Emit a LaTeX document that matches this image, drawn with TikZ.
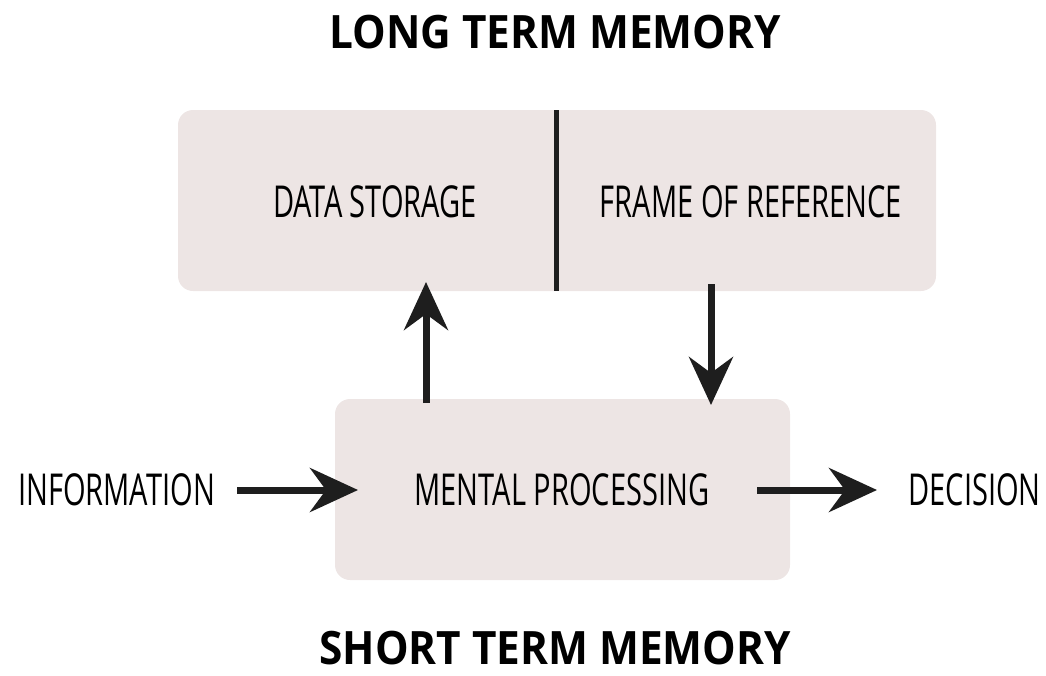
\documentclass[tikz,border=0pt]{standalone}
\usepackage{fontspec}
\setmainfont{Open Sans}
\newfontfamily\condfont[FakeStretch=0.66]{Open Sans}
\newfontfamily\headfont[FakeStretch=0.92]{Open Sans}
\usetikzlibrary{arrows.meta}
\definecolor{boxfill}{RGB}{237,229,228}
\definecolor{ink}{RGB}{30,30,30}
\tikzset{
  panel/.style={fill=boxfill, rounded corners=15pt, draw=none},
  lbl/.style={font=\condfont\fontsize{44}{50}\selectfont, text=black, inner sep=0pt, anchor=base},
  title/.style={font=\headfont\bfseries\fontsize{46}{52}\selectfont, text=black, inner sep=0pt,
    anchor=base},
  flow/.style={draw=ink, line width=7pt,
    -{Stealth[length=48pt, width=44pt, inset=16pt]}}
}
\begin{document}
\begin{tikzpicture}[x=1pt, y=-1pt]
  \useasboundingbox (0,0) rectangle (1046,675);
  % long term memory panel and its divider
  \path[panel] (178,110) rectangle (936,291);
  \coordinate (divtop) at (556,110);
  \coordinate (divbot) at (556,291);
  \draw[ink, line width=5pt] (divtop) -- (divbot);
  % short term memory panel
  \path[panel] (335,399) rectangle (790,580);

  \node[title] (ltm) at (555,48) {LONG TERM MEMORY};
  \node[title] (stm) at (555,664) {SHORT TERM MEMORY};

  \node[lbl] (data) at (375,217) {DATA STORAGE};
  \node[lbl] (frame) at (751,217) {FRAME OF REFERENCE};
  \node[lbl] (proc) at (562,505) {MENTAL PROCESSING};
  \node[lbl, anchor=base west] (info) at (18,505) {INFORMATION};
  \node[lbl, anchor=base east] (dec) at (1041,505) {DECISION};

  \coordinate (upfrom) at (426,403);
  \coordinate (upto) at (426,282);
  \coordinate (dnfrom) at (711,284);
  \coordinate (dnto) at (711,405);
  \coordinate (infrom) at (237,490);
  \coordinate (into) at (358,490);
  \coordinate (outfrom) at (757,490);
  \coordinate (outto) at (877,490);

  \draw[flow] (upfrom) -- (upto);
  \draw[flow] (dnfrom) -- (dnto);
  \draw[flow] (infrom) -- (into);
  \draw[flow] (outfrom) -- (outto);
\end{tikzpicture}
\end{document}
